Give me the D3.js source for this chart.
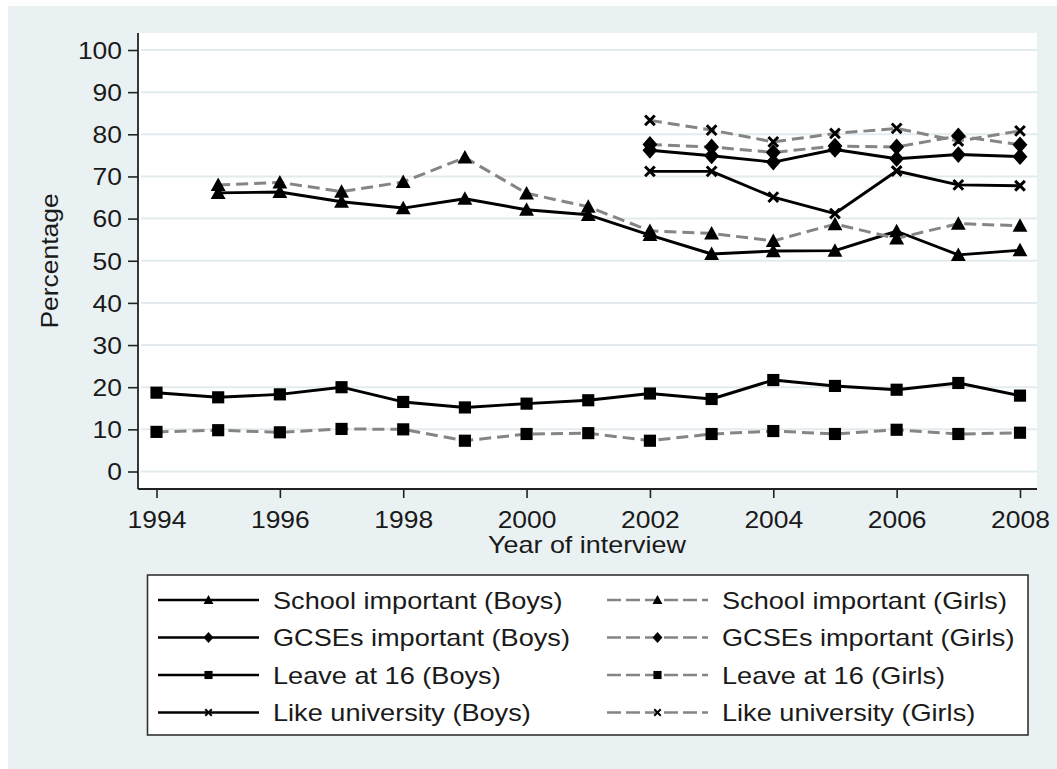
<!DOCTYPE html>
<html>
<head>
<meta charset="utf-8">
<script src="https://cdn.jsdelivr.net/npm/d3@7"></script>
<style>
  body { margin: 0; background: #fff; }
  svg text { font-family: "Liberation Sans", Arial, sans-serif; fill: #1a1a1a; }
</style>
</head>
<body>
<svg id="chart" width="1057" height="769"></svg>
<script>
// Data
const leaveYears = [1994, 1995, 1996, 1997, 1998, 1999, 2000, 2001, 2002, 2003, 2004, 2005, 2006, 2007, 2008];
const schoolYears = [1995, 1996, 1997, 1998, 1999, 2000, 2001, 2002, 2003, 2004, 2005, 2006, 2007, 2008];
const lateYears = [2002, 2003, 2004, 2005, 2006, 2007, 2008];

const schoolBoys = [66.1, 66.3, 64.0, 62.5, 64.7, 62.1, 60.9, 56.1, 51.6, 52.3, 52.4, 57.0, 51.4, 52.5];
const schoolGirls = [68.0, 68.6, 66.4, 68.7, 74.5, 66.0, 62.8, 57.1, 56.5, 54.7, 58.7, 55.3, 58.8, 58.3];
const gcseBoys = [76.2, 74.9, 73.4, 76.4, 74.2, 75.2, 74.7];
const gcseGirls = [77.6, 77.0, 75.7, 77.2, 77.0, 79.6, 77.5];
const leaveBoys = [18.7, 17.6, 18.3, 20.0, 16.5, 15.2, 16.1, 16.9, 18.5, 17.2, 21.7, 20.3, 19.4, 21.0, 18.0];
const leaveGirls = [9.4, 9.8, 9.3, 10.1, 10.0, 7.3, 8.9, 9.1, 7.3, 8.9, 9.6, 8.9, 9.9, 8.9, 9.2];
const uniBoys = [71.2, 71.2, 65.1, 61.2, 71.3, 68.0, 67.8];
const uniGirls = [83.3, 81.0, 78.2, 80.2, 81.4, 78.4, 80.8];

const yTicks = [0, 10, 20, 30, 40, 50, 60, 70, 80, 90, 100];
const xTicks = [1994, 1996, 1998, 2000, 2002, 2004, 2006, 2008];

const series = [
  { label: "School important (Boys)", years: schoolYears, values: schoolBoys, girls: false, marker: "triangle" },
  { label: "School important (Girls)", years: schoolYears, values: schoolGirls, girls: true, marker: "triangle" },
  { label: "GCSEs important (Boys)", years: lateYears, values: gcseBoys, girls: false, marker: "diamond" },
  { label: "GCSEs important (Girls)", years: lateYears, values: gcseGirls, girls: true, marker: "diamond" },
  { label: "Leave at 16 (Boys)", years: leaveYears, values: leaveBoys, girls: false, marker: "square" },
  { label: "Leave at 16 (Girls)", years: leaveYears, values: leaveGirls, girls: true, marker: "square" },
  { label: "Like university (Boys)", years: lateYears, values: uniBoys, girls: false, marker: "cross" },
  { label: "Like university (Girls)", years: lateYears, values: uniGirls, girls: true, marker: "cross" },
];

const SX = 1.14; // text in the original is a bit wide
const FONT = 23.2;

const svg = d3.select("#chart");

// background region
svg.append("rect").attr("x", 8).attr("y", 6).attr("width", 1049).attr("height", 763).attr("fill", "#eaf1f3");

const plot = { left: 138, right: 1037, top: 33, bottom: 489 };
svg.append("rect")
  .attr("x", plot.left).attr("y", plot.top)
  .attr("width", plot.right - plot.left).attr("height", plot.bottom - plot.top)
  .attr("fill", "#fff");

const xScale = d3.scaleLinear().domain([1994, 2008]).range([156.5, 1020]);
const yScale = d3.scaleLinear().domain([0, 100]).range([471.5, 50]);

// gridlines
svg.append("g").selectAll("line").data(yTicks).join("line")
  .attr("x1", plot.left + 3).attr("x2", plot.right)
  .attr("y1", (d) => yScale(d)).attr("y2", (d) => yScale(d))
  .attr("stroke", "#e4ebee").attr("stroke-width", 2);

// axes
const yAxis = svg.append("g").attr("transform", `translate(${plot.left},0)`)
  .call(d3.axisLeft(yScale).tickValues(yTicks).tickSize(10).tickSizeOuter(0));
const xAxis = svg.append("g").attr("transform", `translate(0,${plot.bottom})`)
  .call(d3.axisBottom(xScale).tickValues(xTicks).tickFormat(d3.format("d")).tickSize(9).tickPadding(14).tickSizeOuter(0));

[yAxis, xAxis].forEach((ax) => {
  ax.select(".domain").remove();
  ax.selectAll(".tick line").attr("stroke", "#222").attr("stroke-width", 1.6);
  ax.selectAll("text").style("font-size", FONT + "px").attr("fill", "#1a1a1a")
    .style("font-family", '"Liberation Sans", Arial, sans-serif');
});
yAxis.selectAll("text").attr("x", -16 / SX).attr("dy", "0.36em").attr("transform", `scale(${SX},1)`);
xAxis.selectAll("text").attr("transform", `scale(${SX},1)`);

svg.append("line").attr("x1", plot.left).attr("x2", plot.left).attr("y1", plot.top).attr("y2", plot.bottom)
  .attr("stroke", "#222").attr("stroke-width", 1.8);
svg.append("line").attr("x1", plot.left).attr("x2", plot.right).attr("y1", plot.bottom).attr("y2", plot.bottom)
  .attr("stroke", "#222").attr("stroke-width", 1.8);

function stretchText(x, y, str, anchor, rotate, size) {
  return svg.append("text")
    .attr("transform", `translate(${x},${y})${rotate ? " rotate(-90)" : ""} scale(${SX},1)`)
    .attr("text-anchor", anchor)
    .style("font-size", (size || FONT) + "px")
    .text(str);
}

// axis titles
stretchText(587, 553, "Year of interview", "middle", false, 23.6);
stretchText(58, 261, "Percentage", "middle", true, 23.2);

// markers
function drawMarker(g, type, cx, cy, s) {
  if (type === "triangle") {
    g.append("path")
      .attr("d", `M${cx},${cy - s * 0.55}L${cx + s * 0.55},${cy + s * 0.45}L${cx - s * 0.55},${cy + s * 0.45}Z`)
      .attr("fill", "#000");
  } else if (type === "diamond") {
    g.append("path")
      .attr("d", `M${cx},${cy - s * 0.62}L${cx + s * 0.55},${cy}L${cx},${cy + s * 0.62}L${cx - s * 0.55},${cy}Z`)
      .attr("fill", "#000");
  } else if (type === "square") {
    g.append("rect").attr("x", cx - s * 0.45).attr("y", cy - s * 0.45)
      .attr("width", s * 0.9).attr("height", s * 0.9).attr("fill", "#000");
  } else {
    const h = s * 0.36;
    g.append("path")
      .attr("d", `M${cx - h},${cy - h}L${cx + h},${cy + h}M${cx - h},${cy + h}L${cx + h},${cy - h}`)
      .attr("stroke", "#000").attr("stroke-width", s * 0.22).attr("fill", "none");
  }
}

const line = d3.line().x((d) => xScale(d.year)).y((d) => yScale(d.value));
const lines = svg.append("g");

series.forEach((s) => {
  const pts = s.years.map((yr, i) => ({ year: yr, value: s.values[i] }));
  lines.append("path")
    .datum(pts)
    .attr("d", line)
    .attr("fill", "none")
    .attr("stroke", s.girls ? "#858585" : "#000")
    .attr("stroke-width", s.girls ? 3 : 2.9)
    .attr("stroke-dasharray", s.girls ? "12,6" : null)
    .attr("stroke-linejoin", "round");
  const mg = lines.append("g");
  pts.forEach((p) => drawMarker(mg, s.marker, xScale(p.year), yScale(p.value), 13.5));
});

// legend
const legend = svg.append("g");
legend.append("rect").attr("x", 147.5).attr("y", 575).attr("width", 880.5).attr("height", 160)
  .attr("fill", "#fff").attr("stroke", "#333").attr("stroke-width", 1.6);

series.forEach((s, i) => {
  const col = i % 2;
  const row = Math.floor(i / 2);
  const ky = 600 + row * 37.5;
  const kx = col === 0 ? 158 : 607;
  legend.append("line")
    .attr("x1", kx).attr("x2", kx + 101).attr("y1", ky).attr("y2", ky)
    .attr("stroke", s.girls ? "#858585" : "#000")
    .attr("stroke-width", 2.6)
    .attr("stroke-dasharray", s.girls ? "14,5" : null);
  drawMarker(legend, s.marker, kx + 50.5, ky, 9);
  stretchText(kx + 115, ky + 8.5, s.label, "start", false, 23.8);
});
</script>
</body>
</html>
